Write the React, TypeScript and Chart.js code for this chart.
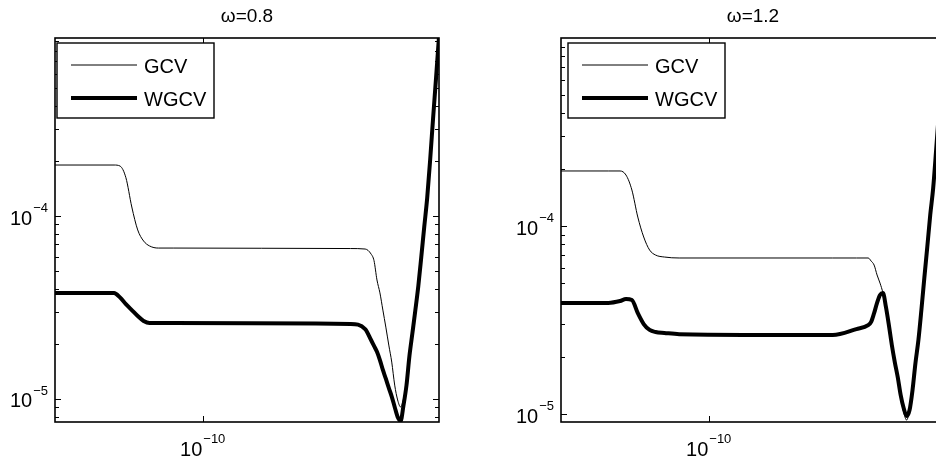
import React, { useEffect, useRef } from "react";
import { Chart, registerables } from "chart.js";
Chart.register(...registerables);

// ---------- data ----------
const lambdaLeft = [
  1e-15, 1e-13, 1.585e-13, 2.512e-13, 3.981e-13, 6.31e-13, 1e-12, 1.585e-12, 3.162e-12, 1e-11,
  1e-5, 3.162e-5, 5.012e-5, 6.31e-5, 7.943e-5, 1e-4, 1.259e-4, 1.585e-4, 1.995e-4, 2.512e-4,
  3.162e-4, 3.981e-4, 5.012e-4, 6.31e-4, 7.943e-4, 1e-3, 1.259e-3, 1.585e-3, 1.995e-3, 2.512e-3,
  3.162e-3, 3.981e-3, 5.012e-3, 6.31e-3, 7.943e-3, 1e-2,
];
const gcvLeft = [
  1.9e-4, 1.9e-4, 1.876e-4, 1.62e-4, 1.12e-4, 8.39e-5, 7.3e-5, 6.86e-5, 6.68e-5, 6.68e-5,
  6.64e-5, 6.6e-5, 6.2e-5, 5.7e-5, 4.47e-5, 3.8e-5, 3.06e-5, 2.47e-5, 1.97e-5, 1.59e-5,
  1.19e-5, 9.87e-6, 9.04e-6, 1.0e-5, 1.22e-5, 1.72e-5, 2.29e-5, 3.06e-5, 4.14e-5, 5.97e-5,
  8.71e-5, 1.254e-4, 2.02e-4, 3.43e-4, 5.68e-4, 9.6e-4,
];
const wgcvLeft = [
  3.8e-5, 3.8e-5, 3.59e-5, 3.3e-5, 3.06e-5, 2.84e-5, 2.67e-5, 2.6e-5, 2.6e-5, 2.6e-5,
  2.57e-5, 2.41e-5, 2.1e-5, 1.95e-5, 1.81e-5, 1.63e-5, 1.44e-5, 1.29e-5, 1.15e-5, 1.03e-5,
  9.04e-6, 7.97e-6, 7.58e-6, 9.27e-6, 1.19e-5, 1.72e-5, 2.29e-5, 3.06e-5, 4.14e-5, 5.97e-5,
  8.71e-5, 1.254e-4, 2.02e-4, 3.43e-4, 5.68e-4, 9.6e-4,
];

const lambdaRight = [
  1e-15, 3.98e-14, 1e-13, 1.585e-13, 2.512e-13, 3.981e-13, 6.31e-13, 1e-12, 1.585e-12, 3.162e-12,
  1e-11, 1.585e-6, 1e-5, 2.512e-5, 3.162e-5, 3.981e-5, 5.012e-5, 6.31e-5, 7.943e-5, 1e-4,
  1.259e-4, 1.585e-4, 1.995e-4, 2.512e-4, 3.162e-4, 3.981e-4, 5.012e-4, 6.31e-4, 7.943e-4, 1e-3,
  1.259e-3, 1.585e-3, 1.995e-3, 2.512e-3, 3.162e-3, 3.981e-3, 5.012e-3, 6.31e-3, 7.943e-3, 1e-2,
];
const gcvRight = [
  1.962e-4, 1.962e-4, 1.962e-4, 1.867e-4, 1.554e-4, 1.116e-4, 8.74e-5, 7.45e-5, 7.01e-5, 6.84e-5,
  6.76e-5, 6.76e-5, 6.76e-5, 6.76e-5, 6.51e-5, 6.2e-5, 5.49e-5, 4.97e-5, 4.4e-5, 3.66e-5,
  2.9e-5, 2.33e-5, 1.82e-5, 1.52e-5, 1.23e-5, 1.025e-5, 9.29e-6, 1.05e-5, 1.34e-5, 1.87e-5,
  2.475e-5, 3.57e-5, 5.29e-5, 7.73e-5, 1.144e-4, 1.593e-4, 2.54e-4, 4.14e-4, 6.76e-4, 1.103e-3,
];
const wgcvRight = [
  3.9e-5, 3.9e-5, 3.99e-5, 4.09e-5, 4.04e-5, 3.44e-5, 3.01e-5, 2.8e-5, 2.73e-5, 2.7e-5,
  2.66e-5, 2.63e-5, 2.83e-5, 2.97e-5, 3.09e-5, 3.44e-5, 3.9e-5, 4.3e-5, 4.4e-5, 3.71e-5,
  2.97e-5, 2.33e-5, 1.89e-5, 1.57e-5, 1.26e-5, 1.076e-5, 9.76e-6, 1.05e-5, 1.34e-5, 1.87e-5,
  2.475e-5, 3.57e-5, 5.29e-5, 7.73e-5, 1.144e-4, 1.593e-4, 2.54e-4, 4.14e-4, 6.76e-4, 1.103e-3,
];

const panelTitles = ["ω=0.8", "ω=1.2"];
const seriesNames = ["GCV", "WGCV"];
const xMajorTicks = [1e-10];
const xTickExponents = ["−10"];
const yMajorTicks = [1e-5, 1e-4];
const yTickExponents = ["−5", "−4"];
const yDecades = [1e-6, 1e-5, 1e-4];
const minorMultipliers = [2, 3, 4, 5, 6, 7, 8, 9];

const FONT = '"Liberation Sans", Arial, Helvetica, sans-serif';

const axesPlugin = {
  id: "matlabAxes",
  afterDatasetsDraw(chart: any, _args: any, opts: any) {
    const { ctx, chartArea: a, scales } = chart;
    const xs = scales.x;
    const ys = scales.y;
    ctx.save();
    ctx.strokeStyle = "#000";
    ctx.fillStyle = "#000";

    // y ticks (major + minor), both sides, inward
    ctx.lineWidth = 1;
    const yMin = ys.min;
    const yMax = ys.max;
    yDecades.forEach((d) => {
      [1, ...minorMultipliers].forEach((m) => {
        const v = m * d;
        if (v < yMin || v > yMax) return;
        const y = Math.round(ys.getPixelForValue(v)) + 0.5;
        const len = m === 1 ? 6 : 4;
        ctx.beginPath();
        ctx.moveTo(a.left, y);
        ctx.lineTo(a.left + len, y);
        ctx.moveTo(a.right, y);
        ctx.lineTo(a.right - len, y);
        ctx.stroke();
      });
    });
    // x ticks
    xMajorTicks.forEach((v) => {
      const x = Math.round(xs.getPixelForValue(v)) + 0.5;
      ctx.beginPath();
      ctx.moveTo(x, a.bottom);
      ctx.lineTo(x, a.bottom - 6);
      ctx.moveTo(x, a.top);
      ctx.lineTo(x, a.top + 6);
      ctx.stroke();
    });

    // box
    ctx.lineWidth = 1.6;
    ctx.strokeRect(a.left, a.top, a.right - a.left, a.bottom - a.top);

    // labels
    const baseFont = `20px ${FONT}`;
    const expFont = `13px ${FONT}`;
    ctx.textBaseline = "alphabetic";
    ctx.textAlign = "left";
    yMajorTicks.forEach((v, i) => {
      const y = ys.getPixelForValue(v);
      ctx.font = expFont;
      const we = ctx.measureText(yTickExponents[i]).width;
      ctx.font = baseFont;
      const wb = ctx.measureText("10").width;
      const right = a.left - 7;
      ctx.fillText("10", right - we - 1 - wb, y + 8.5);
      ctx.font = expFont;
      ctx.fillText(yTickExponents[i], right - we, y - 4);
    });
    xMajorTicks.forEach((v, i) => {
      const x = xs.getPixelForValue(v);
      ctx.font = expFont;
      const we = ctx.measureText(xTickExponents[i]).width;
      ctx.font = baseFont;
      const wb = ctx.measureText("10").width;
      const left = x - (wb + 1 + we) / 2;
      ctx.fillText("10", left, a.bottom + 34);
      ctx.font = expFont;
      ctx.fillText(xTickExponents[i], left + wb + 1, a.bottom + 21);
    });

    // title
    ctx.font = `19px ${FONT}`;
    ctx.textAlign = "center";
    ctx.fillText(opts.title, (a.left + a.right) / 2, 21.5);

    // legend
    const bx = a.left + opts.legendDx;
    const by = a.top + 5;
    const bw = 157;
    const bh = 75;
    ctx.fillStyle = "#fff";
    ctx.fillRect(bx, by, bw, bh);
    ctx.strokeStyle = "#000";
    ctx.lineWidth = 1.4;
    ctx.strokeRect(bx, by, bw, bh);
    ctx.fillStyle = "#000";
    ctx.textAlign = "left";
    ctx.font = `20px ${FONT}`;
    chart.data.datasets.forEach((ds: any, i: number) => {
      const ly = by + 22 + i * 33;
      ctx.lineWidth = ds.borderWidth;
      ctx.beginPath();
      ctx.moveTo(bx + 14, ly);
      ctx.lineTo(bx + 80, ly);
      ctx.stroke();
      ctx.fillText(ds.label, bx + 87, ly + 7.5);
    });
    ctx.restore();
  },
};

type PanelProps = {
  left: number;
  width: number;
  title: string;
  lambda: number[];
  gcv: number[];
  wgcv: number[];
  yMin: number;
  yMax: number;
  padLeft: number;
  padRight: number;
  legendDx: number;
};

function Panel(p: PanelProps) {
  const ref = useRef<HTMLCanvasElement | null>(null);
  useEffect(() => {
    if (!ref.current) return;
    const chart = new Chart(ref.current, {
      type: "line",
      data: {
        datasets: [
          {
            label: seriesNames[0],
            data: p.lambda.map((x, i) => ({ x, y: p.gcv[i] })),
            borderColor: "#000",
            borderWidth: 1,
            pointRadius: 0,
            fill: false,
            cubicInterpolationMode: "monotone",
            borderJoinStyle: "round",
            clip: 0,
          },
          {
            label: seriesNames[1],
            data: p.lambda.map((x, i) => ({ x, y: p.wgcv[i] })),
            borderColor: "#000",
            borderWidth: 4,
            pointRadius: 0,
            fill: false,
            cubicInterpolationMode: "monotone",
            borderJoinStyle: "round",
            clip: 0,
          },
        ],
      },
      options: {
        animation: false,
        responsive: false,
        devicePixelRatio: 1,
        layout: { padding: { left: p.padLeft, right: p.padRight, top: 38, bottom: 39 } },
        scales: {
          x: { type: "logarithmic", min: 1e-15, max: 1e-2, display: false },
          y: { type: "logarithmic", min: p.yMin, max: p.yMax, display: false },
        },
        plugins: {
          legend: { display: false },
          title: { display: false },
          tooltip: { enabled: false },
          matlabAxes: { title: p.title, legendDx: p.legendDx },
        } as any,
      },
      plugins: [axesPlugin as any],
    } as any);
    return () => chart.destroy();
  }, []);
  return (
    <canvas
      ref={ref}
      width={p.width}
      height={461}
      style={{ position: "absolute", left: p.left, top: 0, display: "block" }}
    />
  );
}

export default function App() {
  return (
    <div
      style={{
        position: "absolute",
        left: 0,
        top: 0,
        width: 936,
        height: 461,
        overflow: "hidden",
        background: "#fff",
      }}
    >
      <Panel
        left={0}
        width={470}
        title={panelTitles[0]}
        lambda={lambdaLeft}
        gcv={gcvLeft}
        wgcv={wgcvLeft}
        yMin={7.48e-6}
        yMax={9.4e-4}
        padLeft={55}
        padRight={31}
        legendDx={2}
      />
      <Panel
        left={480}
        width={480}
        title={panelTitles[1]}
        lambda={lambdaRight}
        gcv={gcvRight}
        wgcv={wgcvRight}
        yMin={9.07e-6}
        yMax={1.0e-3}
        padLeft={81}
        padRight={15}
        legendDx={7}
      />
    </div>
  );
}
